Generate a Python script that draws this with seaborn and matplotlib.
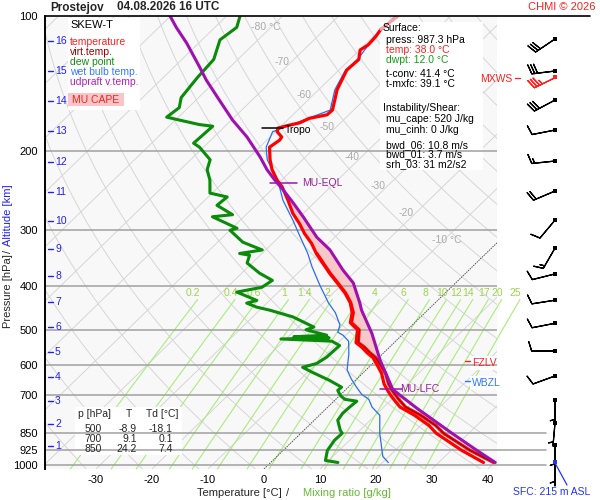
import numpy as np
import pandas as pd
import matplotlib
matplotlib.use("Agg")
import matplotlib.pyplot as plt
from matplotlib.patches import Rectangle
from matplotlib.lines import Line2D
from matplotlib.ticker import NullLocator
import seaborn as sns

# ---------------- data ----------------
station = "Prostejov"
valid_time = "04.08.2026 16 UTC"
copyright_text = "CHMI © 2026"

# environment temperature [hPa], [°C]
p_temp = [987.3, 928, 850, 816, 775, 743, 718, 700, 682, 660, 625, 598, 576, 563, 547, 534,
          500, 482, 458, 435, 414, 394, 374, 355, 338, 321, 305, 290, 275, 257, 240, 232,
          220, 209, 196, 189, 186, 181, 177.6, 175, 173, 169, 166, 162, 154, 146, 132, 125,
          119, 116, 111, 107, 100]
t_temp = [38.0, 31.9, 24.2, 21.4, 17.0, 12.9, 10.7, 9.1, 7.6, 5.8, 3.4, 1.0, -1.1, -2.9, -4.9, -6.8,
          -8.9, -11.5, -13.0, -15.2, -17.9, -21.0, -24.3, -27.4, -30.3, -33.0, -36.1, -38.8, -41.9, -45.2, -48.7, -50.8,
          -53.6, -55.8, -58.2, -57.7, -57.9, -59.7, -60.2, -58.7, -57.3, -56.4, -53.9, -53.8, -55.2, -56.7, -58.6, -58.4,
          -59.9, -59.4, -59.6, -60.0, -59.4]

# virtual temperature
p_tv = [987.3, 928, 850, 816, 775, 743, 718, 700, 682, 660, 625, 598, 576, 563, 547, 534,
        500, 482, 458, 435, 414, 394, 374, 355, 338]
t_tv = [39.8, 33.4, 25.5, 22.6, 18.1, 13.9, 11.6, 10.0, 8.4, 6.6, 4.1, 1.6, -0.6, -2.4, -4.4, -6.4,
        -8.6, -11.3, -12.8, -15.1, -17.8, -20.9, -24.2, -27.3, -30.2]

# dew point
p_dew = [987.3, 977, 928, 881, 850, 837, 795, 767, 743, 721, 714, 700, 682, 671, 648, 622,
         606, 594, 576, 542, 530, 524, 521, 518, 514, 500, 493, 468, 452, 445, 436, 430,
         412, 402, 388, 374, 355, 341, 338, 332, 319, 300, 297, 280, 277, 264, 253, 248,
         232, 220, 209, 196, 192, 176, 174.5, 168, 160, 152, 137, 125, 113, 106, 100]
t_dew = [12.0, 9.4, 7.9, 7.3, 7.4, 6.5, 4.2, 3.8, 3.9, 4.1, 1.6, 0.1, -1.3, -1.2, -4.6, -9.1,
         -11.8, -10.0, -9.4, -9.2, -11.4, -20.9, -12.5, -19.0, -13.4, -18.1, -17.2, -22.8, -28.2, -31.1, -33.6, -32.3,
         -37.4, -33.8, -33.2, -36.8, -40.9, -41.9, -44.0, -40.6, -45.5, -50.0, -49.1, -55.6, -52.4, -56.9, -56.6, -60.4,
         -62.8, -65.2, -66.5, -70.7, -72.5, -72.2, -74.9, -82.1, -81.6, -83.1, -83.9, -84.3, -86.8, -86.1, -87.6]

# wet bulb temperature
p_wb = [987.3, 957, 850, 775, 743, 714, 696, 669, 643, 614, 566, 530, 514, 506, 488, 458,
        435, 398, 362, 337.5, 310, 285, 257, 234, 209, 196, 181, 173, 162, 146, 132, 125, 111, 100]
t_wb = [21.0, 18.9, 14.1, 10.8, 7.9, 5.9, 3.7, 1.3, -1.0, -3.4, -6.0, -8.4, -10.5, -12.0, -12.9, -16.0,
        -19.1, -23.8, -28.6, -31.9, -36.3, -40.6, -46.1, -50.3, -56.3, -58.8, -60.5, -57.9, -54.2, -57.1, -58.8, -58.6, -59.8, -59.8]

# MU parcel (updraft virtual temperature)
p_par = [987.3, 928, 850, 750, 700, 678, 584, 509, 452, 435, 393, 368, 332, 311, 280, 260.5,
         244, 232, 220, 206, 186, 170.5, 154, 139, 130, 115, 106, 100]
t_par = [40.1, 34.6, 27.0, 16.4, 10.8, 8.3, 0.7, -5.7, -11.8, -13.5, -18.3, -22.5, -28.5, -33.2, -39.4, -43.8,
         -47.9, -51.2, -54.5, -58.1, -64.1, -69.8, -75.8, -81.8, -85.4, -92.1, -96.9, -100.1]

# special levels [hPa]
p_tropo = 177.6
p_lfc = 678
p_eql = 236
p_fzlv = 587
p_wbzl = 650

# winds
wind_p = [112.5, 132.6, 153.9, 179.5, 210.4, 245.4, 284.9, 328.8, 375.4, 429.5, 483.5, 557.2,
          633.5, 717.7, 806, 902, 987.3]
wind_dir = [236, 263, 242, 259, 264, 247, 220, 210, 256, 261, 259, 270, 250, 180, 185, 180, 180]
wind_spd = [30, 30, 30, 10, 15, 20, 10, 15, 10, 10, 10, 10, 10, 5, 5, 5, 5]
mxws_p, mxws_dir, mxws_spd = 136.8, 244, 35

# axes labels
p_levels = [100, 200, 300, 400, 500, 600, 700, 850, 925, 1000]
t_ticks = [-30, -20, -10, 0, 10, 20, 30, 40]
km_labels = [16, 15, 14, 13, 12, 11, 10, 9, 8, 7, 6, 5, 4, 3, 2, 1]
km_press = [113.5, 132.5, 154.5, 180.4, 211.8, 247.0, 286.3, 330.6, 379.3, 433.5, 493.2, 561.0,
            638.0, 722.0, 810.0, 905.0]
mix_ratio = [0.2, 0.4, 0.6, 1, 1.4, 2, 3, 4, 6, 8, 10, 12, 14, 17, 20, 25]
iso_labels = [-80, -70, -60, -50, -40, -30, -20, -10]

table_p = ["500", "700", "850"]
table_t = ["-8.9", "9.1", "24.2"]
table_td = ["-18.1", "0.1", "7.4"]

surface_lines = [("Surface:", "black", 0), ("press: 987.3 hPa", "black", 1),
                 ("temp: 38.0 °C", "#ff2020", 1), ("dwpt: 12.0 °C", "#13a013", 1),
                 ("t-conv: 41.4 °C", "black", 1), ("t-mxfc: 39.1 °C", "black", 1),
                 ("Instability/Shear:", "black", 0), ("mu_cape: 520 J/kg", "black", 1),
                 ("mu_cinh: 0 J/kg", "black", 1), ("bwd_06: 10.8 m/s", "black", 1),
                 ("bwd_01: 3.7 m/s", "black", 1), ("srh_03: 31 m2/s2", "black", 1)]
legend_items = [("temperature", "#ff2020"), ("virt.temp.", "#990000"), ("dew point", "#109010"),
                ("wet bulb temp.", "#3377ff"), ("udpraft v.temp.", "#b020c0")]

# ---------------- layout ----------------
sns.set_theme(style="white")
plt.rcParams['font.family'] = ['Liberation Sans', 'DejaVu Sans']
plt.rcParams['axes.unicode_minus'] = False

W, H = 600, 500
AX_L, AX_R, AX_T, AX_B = 45, 497, 16, 469
X0PX, DEG_PX = 264.0, 5.6
P_BOT, P_TOP = 1020.8, 100.0
SKEW = 1.03 * 195.0 / DEG_PX

fig = plt.figure(figsize=(6, 5), dpi=100)
fig.patch.set_facecolor("white")
ax = fig.add_axes([AX_L / W, 1 - AX_B / H, (AX_R - AX_L) / W, (AX_B - AX_T) / H])
ax.set_facecolor("#f8f8f8")
ax.set_yscale("log")
XMIN = (AX_L - X0PX) / DEG_PX
XMAX = (AX_R - X0PX) / DEG_PX
ax.set_xlim(XMIN, XMAX)
ax.set_ylim(P_BOT, P_TOP)


def skew(t, p):
    return np.asarray(t, float) + SKEW * np.log(P_BOT / np.asarray(p, float))


def fx(x):
    return x / W


def fy(y):
    return 1 - y / H


def ftext(x, y, s, **kw):
    kw.setdefault("transform", fig.transFigure)
    kw.setdefault("zorder", 8)
    return ax.text(fx(x), fy(y), s, **kw)


def fline(x1, y1, x2, y2, **kw):
    ln = Line2D([fx(x1), fx(x2)], [fy(y1), fy(y2)], transform=fig.transFigure, **kw)
    ln.set_clip_on(False)
    ax.add_line(ln)


def fbox(x1, y1, x2, y2, color="white", z=2):
    r = Rectangle((fx(x1), fy(y2)), (x2 - x1) / W, (y2 - y1) / H, transform=fig.transFigure,
                  facecolor=color, edgecolor="none", zorder=z)
    r.set_clip_on(False)
    ax.add_patch(r)


GRID = "#d6d6d6"
pp = np.geomspace(P_BOT, P_TOP, 80)
# isotherms
for t in range(-150, 60, 10):
    if t == 0:
        continue
    ax.plot(skew(t, pp), pp, color=GRID, lw=0.7, zorder=1)
ax.plot(skew(0, pp), pp, color="#555555", lw=0.7, ls=(0, (1.5, 1)), zorder=1.2)
# dry adiabats
for th in range(220, 490, 10):
    tt = th * (pp / 1000.0) ** 0.286 - 273.15
    ax.plot(skew(tt, pp), pp, color=GRID, lw=0.7, zorder=1)
# mixing ratio lines
pw = np.geomspace(P_BOT, 428, 40)
for w in mix_ratio:
    e = w * pw / (622.0 + w)
    l = np.log(e / 6.112)
    td = 243.5 * l / (17.67 - l)
    ln, = ax.plot(skew(td, pw), pw, color="#a9ec7c", lw=0.8, zorder=1.1)
    ln.set_clip_on(False)
    xl = skew(td[-1], pw[-1]) - 0.8
    ax.text(xl, 414, f"{w:g}", color="#9fd24f", fontsize=7.5, ha="center", va="center", zorder=1.3)

# isotherm labels
iso_label_p = [105.8, 126.6, 149.9, 176.6, 206.0, 239.0, 274.7, 315.7]
for t, p in zip(iso_labels, iso_label_p):
    if t in (-80, -10):
        s = f"{t} °C"
        xx = skew(t, p) + (-1.0 if t == -80 else 0.6)
        ax.text(xx, p, s, color="#aaaaaa", fontsize=7.5, ha="center", va="center", zorder=1.3)
    else:
        ax.text(skew(t, p) - 0.3, p, f"{t}", color="#aaaaaa", fontsize=7.5, ha="right", va="center",
                zorder=1.3)

# white boxes
fbox(68, 18, 140, 110)           # legend
fbox(380, 22, 483, 170)          # surface info
fbox(75, 407, 182, 455)          # table
fbox(470, 356, 507, 370)         # FZLV
fbox(470, 376, 507, 390)         # WBZL
fbox(68, 93, 124, 106, color="#f8c6c6", z=2.1)

# isobars
for p in p_levels[1:7]:
    ax.axhline(p, color="#a0a0a0", lw=1.1, zorder=3)
for p in p_levels[7:]:
    ln, = ax.plot([XMIN, (546 - X0PX) / DEG_PX], [p, p], color="#a0a0a0", lw=1.1, zorder=3)
    ln.set_clip_on(False)

# CAPE area
env_p = np.array(p_tv + [p for p in p_temp if p < min(p_tv)])
env_t = np.array(t_tv + [t for p, t in zip(p_temp, t_temp) if p < min(p_tv)])
pg = np.geomspace(p_lfc, p_eql, 200)
xe = np.interp(-np.log(pg), -np.log(env_p), skew(env_t, env_p))
xp = np.interp(-np.log(pg), -np.log(np.array(p_par)), skew(t_par, p_par))
ax.fill_betweenx(pg, xe, xp, where=xp > xe, color="#f8c8c8", lw=0, zorder=2.5)


def prof(p, t, color, lw, z):
    df = pd.DataFrame({"X": skew(t, p), "p": np.asarray(p, float)})
    sns.lineplot(data=df, x="X", y="p", sort=False, estimator=None, color=color, lw=lw,
                 ax=ax, zorder=z)


prof(p_wb, t_wb, "#2a6ef0", 0.9, 4.0)
prof(p_dew, t_dew, "#0a8c0a", 2.2, 4.2)
prof(p_tv, t_tv, "#ff1010", 2.4, 4.4)
prof(p_tv, t_tv, "#8b0000", 0.8, 4.5)
n_red = p_temp.index(107) + 1
prof(p_temp[:n_red], t_temp[:n_red], "#ff0000", 2.3, 5.0)
prof(p_temp[n_red - 1:], t_temp[n_red - 1:], "#f4a3ab", 2.3, 5.0)
prof(p_par, t_par, "#a010b0", 2.2, 5.5)
ax.set_xlabel("")
ax.set_ylabel("")

# level markers
ax.plot([(262 - X0PX) / DEG_PX, (283 - X0PX) / DEG_PX], [p_tropo, p_tropo], color="black", lw=1.1, zorder=6)
ftext(285, 130, "Tropo", fontsize=7.5, color="black", ha="left", va="center")
xq = skew(np.interp(-np.log(p_eql), -np.log(np.array(p_par)), np.array(t_par)), p_eql)
ax.plot([xq - 1.3, xq + 3.4], [p_eql, p_eql], color="#a010b0", lw=1.1, zorder=6)
ftext(302, 183, "MU-EQL", fontsize=7.5, color="#992299", ha="left", va="center")
xq = skew(np.interp(-np.log(p_lfc), -np.log(np.array(p_par)), np.array(t_par)), p_lfc)
ax.plot([xq - 2.2, xq + 1.6], [p_lfc, p_lfc], color="#a010b0", lw=1.1, zorder=6)
ftext(400, 389, "MU-LFC", fontsize=7.5, color="#992299", ha="left", va="center")
ax.plot([(465 - X0PX) / DEG_PX, (470 - X0PX) / DEG_PX], [p_fzlv, p_fzlv], color="#ff2020", lw=1, zorder=6)
ftext(472, 363, "FZLV", fontsize=7.5, color="#ff2020", ha="left", va="center")
ax.plot([(465 - X0PX) / DEG_PX, (470 - X0PX) / DEG_PX], [p_wbzl, p_wbzl], color="#3377ff", lw=1, zorder=6)
ftext(472, 383, "WBZL", fontsize=7.5, color="#3377ff", ha="left", va="center")

# winds
bx = (555 - X0PX) / DEG_PX
wd = np.radians(np.array(wind_dir, float))
ws = np.array(wind_spd, float)
ax.barbs(np.full(len(wind_p), bx), wind_p, -ws * np.sin(wd), -ws * np.cos(wd), length=5.8,
         linewidth=0.9, color="black", clip_on=False, zorder=6)
md = np.radians(mxws_dir)
ax.barbs([bx], [mxws_p], [-mxws_spd * np.sin(md)], [-mxws_spd * np.cos(md)], length=5.8,
         linewidth=0.9, color="#ff2020", clip_on=False, zorder=6)
dots = ax.scatter(np.full(len(wind_p) - 1, bx), wind_p[:-1], marker="s", s=6, color="black",
                  zorder=7, linewidths=0)
dots.set_clip_on(False)
sd = ax.scatter([bx], [wind_p[-1]], marker="s", s=6, color="#2233ff", zorder=7, linewidths=0)
sd.set_clip_on(False)
md_ = ax.scatter([bx], [mxws_p], marker="s", s=6, color="#ff2020", zorder=7, linewidths=0)
md_.set_clip_on(False)
fline(555, 463, 567, 485, color="#2233ff", lw=0.9, zorder=6)
ftext(590, 492, "SFC: 215 m ASL", fontsize=7.5, color="#2233ff", ha="right", va="center")
ftext(512, 79, "MXWS", fontsize=7.5, color="#ff2020", ha="right", va="center")
fline(515, 78, 520, 78, color="#ff2020", lw=0.9, zorder=6)

# km scale
for km, p in zip(km_labels, km_press):
    ax.plot([(48 - X0PX) / DEG_PX, (53 - X0PX) / DEG_PX], [p, p], color="#2222ee", lw=1.0, zorder=6)
    ax.text((55 - X0PX) / DEG_PX, p, f"{km}", fontsize=7.5, color="#2222ee", ha="left", va="center", zorder=6)

# legend box texts
ftext(70, 25, "SKEW-T", fontsize=8, color="black", ha="left", va="center")
for i, (s, c) in enumerate(legend_items):
    ftext(70, 42.3 + 9.9 * i, s, fontsize=7.5, color=c, ha="left", va="center")
ftext(96, 100, "MU CAPE", fontsize=7.5, color="#ff2020", ha="center", va="center")

# surface text box
ys = [28, 40, 50, 60, 74, 84, 108, 119.5, 130, 145, 154.5, 164.5]
for (s, c, ind), y in zip(surface_lines, ys):
    ftext(383 + 3 * ind, y, s, fontsize=7.5, color=c, ha="left", va="center")

# table
ftext(78, 414, "p [hPa]", fontsize=7.5, ha="left", va="center")
ftext(128.5, 414, "T", fontsize=7.5, ha="center", va="center")
ftext(146, 414, "Td [°C]", fontsize=7.5, ha="left", va="center")
for i, (a, b, c) in enumerate(zip(table_p, table_t, table_td)):
    y = 428.5 + 10.3 * i
    ftext(93.5, y, a, fontsize=7.5, ha="center", va="center")
    ftext(137, y, b, fontsize=7.5, ha="right", va="center")
    ftext(173, y, c, fontsize=7.5, ha="right", va="center")

# axes ticks
ax.set_yticks(p_levels)
ax.set_yticklabels([str(p) for p in p_levels])
ax.yaxis.set_minor_locator(NullLocator())
ax.set_xticks(t_ticks)
ax.set_xticklabels([str(t) for t in t_ticks])
ax.tick_params(axis="both", length=0, labelsize=8, colors="black")
ax.tick_params(axis="y", pad=5)
ax.tick_params(axis="x", pad=4)
for side in ["right", "top", "bottom"]:
    ax.spines[side].set_visible(False)
ax.spines["left"].set_color("black")
ax.spines["left"].set_linewidth(1.4)
ax.spines["left"].set_zorder(9)
fline(45, 16, 590, 16, color="black", lw=1.2, zorder=9)

# titles and axis labels
fig.text(fx(50), fy(7.5), station, fontsize=8.5, fontweight="bold", ha="left", va="center")
fig.text(fx(117), fy(7.5), valid_time, fontsize=8.5, fontweight="bold", ha="left", va="center")
fig.text(fx(596), fy(7.5), copyright_text, fontsize=8, color="#ff2020", ha="right", va="center")
fig.text(fx(197), fy(493), "Temperature [°C]", fontsize=8, ha="left", va="center")
fig.text(fx(288), fy(493), "/", fontsize=8, ha="center", va="center")
fig.text(fx(303), fy(493), "Mixing ratio [g/kg]", fontsize=8, color="#66bb33", ha="left", va="center")
fig.text(fx(8), fy(291), "Pressure [hPa]", fontsize=8, rotation=90, ha="center", va="center")
fig.text(fx(8), fy(251), "/", fontsize=8, rotation=90, ha="center", va="center")
fig.text(fx(8), fy(215), "Altitude [km]", fontsize=8, color="#2222ee", rotation=90, ha="center", va="center")

fig.savefig("out.png", dpi=100)
